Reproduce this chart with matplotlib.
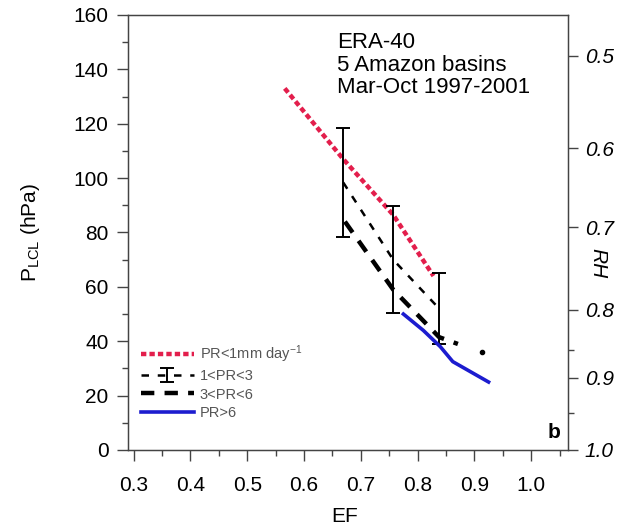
import matplotlib
matplotlib.use("Agg")
import matplotlib.pyplot as plt
from matplotlib.lines import Line2D

plt.rcParams['font.family'] = ['Liberation Sans', 'DejaVu Sans']
plt.rcParams['mathtext.default'] = 'regular'

# EF bins and LCL pressure depth (hPa) per precipitation class
ef_dry = [0.566, 0.669, 0.757, 0.828]
plcl_dry = [133, 107, 86.5, 64]

ef_pr13 = [0.669, 0.757, 0.838]
plcl_pr13 = [98.4, 70, 52]
err_pr13 = [20.1, 19.6, 13]

ef_pr36 = [0.672, 0.757, 0.838, 0.871]
plcl_pr36 = [84, 59, 41.5, 39]
ef_pr36_dot = [0.914]
plcl_pr36_dot = [36]

ef_wet = [0.775, 0.81, 0.84, 0.862, 0.925]
plcl_wet = [50, 44, 38, 32.5, 25]

# right-hand RH scale (RH value -> P_LCL position)
rh_labels = ['0.5', '0.6', '0.7', '0.8', '0.9', '1.0']
rh_pos = [145, 111, 82, 51.5, 26.5, 0]
rh_minor = [36.8, 13.6]

red = '#e31e4c'
blue = '#1c1ccf'
spine_c = '#444444'
fs = 15

fig = plt.figure(figsize=(6.23, 5.26), dpi=100)
ax = fig.add_axes([0.2055, 0.1445, 0.7063, 0.827])

ax.plot(ef_dry, plcl_dry, color=red, lw=3.2, dashes=(1.2, 0.7))
eb = ax.errorbar(ef_pr13, plcl_pr13, yerr=err_pr13, color='black', lw=1.8,
                 dashes=(3, 3.5), capsize=5, elinewidth=1.4, capthick=1.4)
eb[2][0].set_linestyle('-')
ax.plot(ef_pr36, plcl_pr36, color='black', lw=3.2, dashes=(3, 2.3))
ax.plot(ef_pr36_dot, plcl_pr36_dot, 'o', color='black', ms=3)
ax.plot(ef_wet, plcl_wet, color=blue, lw=2.6)

ax.set_xlim(0.29, 1.065)
ax.set_ylim(0, 160)
ax.set_xticks([0.3, 0.4, 0.5, 0.6, 0.7, 0.8, 0.9, 1.0])
ax.set_xticklabels(['0.3', '0.4', '0.5', '0.6', '0.7', '0.8', '0.9', '1.0'])
ax.set_xticks([0.35, 0.45, 0.55, 0.65, 0.75, 0.85, 0.95, 1.05], minor=True)
ax.set_yticks(range(0, 161, 20))
ax.set_yticks(range(10, 160, 20), minor=True)
ax.tick_params(which='major', direction='out', length=8, width=1,
               color=spine_c, labelsize=fs, top=False, right=False)
ax.tick_params(axis='x', which='major', pad=11)
ax.tick_params(axis='y', which='major', pad=6)
ax.tick_params(which='minor', direction='out', length=4, width=1,
               color=spine_c, top=False, right=False)
for s in ax.spines.values():
    s.set_color(spine_c)
    s.set_linewidth(1)

ax.set_xlabel('EF', fontsize=fs)
ax.xaxis.set_label_coords(0.493, -0.13)
ax.set_ylabel('P$_{LCL}$ (hPa)', fontsize=fs)
ax.yaxis.set_label_coords(-0.195, 0.5)

ax2 = ax.twinx()
ax2.set_ylim(0, 160)
ax2.set_yticks(rh_pos)
ax2.set_yticklabels(rh_labels, fontstyle='italic')
ax2.set_yticks(rh_minor, minor=True)
ax2.tick_params(which='major', direction='out', length=7, width=1,
                color=spine_c, labelsize=fs, pad=5)
ax2.tick_params(which='minor', direction='out', length=4, width=1, color=spine_c)
for s in ax2.spines.values():
    s.set_color(spine_c)
ax2.set_ylabel('RH', fontsize=fs, fontstyle='italic', rotation=270)
ax2.yaxis.set_label_coords(1.09, 0.43)

ax.text(0.475, 0.96, 'ERA-40\n5 Amazon basins\nMar-Oct 1997-2001',
        transform=ax.transAxes, ha='left', va='top', fontsize=16,
        linespacing=1.08)
ax.text(0.983, 0.018, 'b', transform=ax.transAxes, ha='right', va='bottom',
        fontsize=fs, fontweight='bold')

h_dry = Line2D([], [], color=red, lw=3.2, dashes=(1.2, 0.7))
h_36 = Line2D([], [], color='black', lw=3.2, dashes=(3, 2.3))
h_wet = Line2D([], [], color=blue, lw=2.6)
leg = ax.legend([h_dry, eb, h_36, h_wet],
                ['PR<1mm day$^{-1}$', '1<PR<3', '3<PR<6', 'PR>6'],
                loc='lower left', bbox_to_anchor=(0.03, 0.069), frameon=False,
                fontsize=10.5, handlelength=3.6, handletextpad=0.4,
                labelspacing=0.3, borderpad=0, borderaxespad=0)
for t in leg.get_texts():
    t.set_color('#555555')

fig.savefig('out.png', dpi=100, facecolor='white')
